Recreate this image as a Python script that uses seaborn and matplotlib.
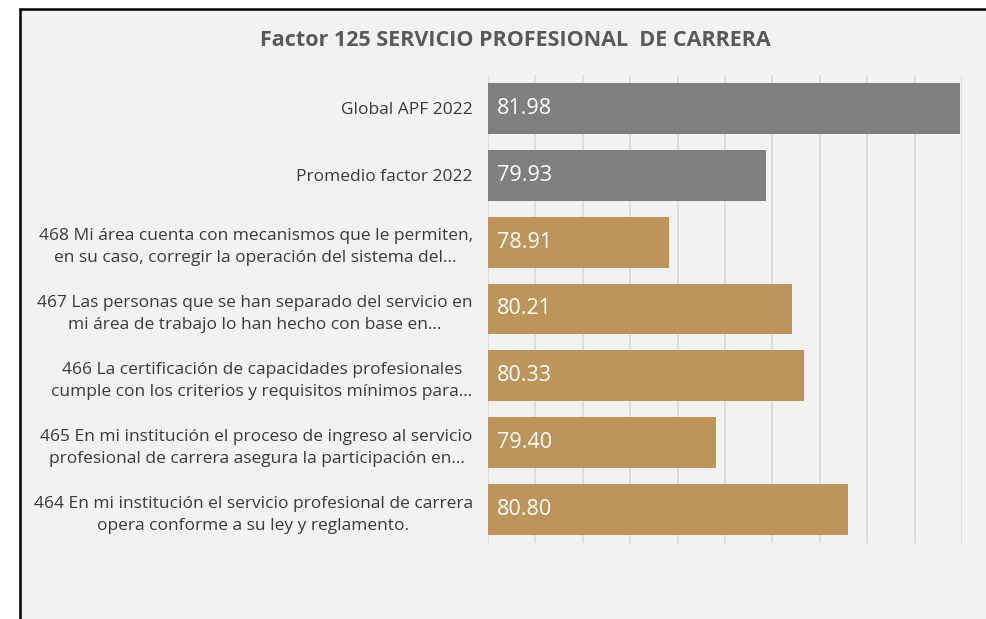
import matplotlib
matplotlib.use("Agg")
import matplotlib.pyplot as plt
import seaborn as sns
import pandas as pd
from matplotlib.patches import Rectangle

categories = [
    "Global APF 2022",
    "Promedio factor 2022",
    "468 Mi área cuenta con mecanismos que le permiten,\nen su caso, corregir la operación del sistema del...",
    "467 Las personas que se han separado del servicio en\nmi área de trabajo lo han hecho con base en...",
    "466 La certificación de capacidades profesionales\ncumple con los criterios y requisitos mínimos para...",
    "465 En mi institución el proceso de ingreso al servicio\nprofesional de carrera asegura la participación en...",
    "464 En mi institución el servicio profesional de carrera\nopera conforme a su ley y reglamento.",
]
values = [81.98, 79.93, 78.91, 80.21, 80.33, 79.40, 80.80]
groups = ["ref", "ref", "item", "item", "item", "item", "item"]
title = "Factor 125 SERVICIO PROFESIONAL  DE CARRERA"

palette = {"ref": "#7f7f7f", "item": "#bd9459"}

sns.set_theme(style="white")
plt.rcParams["font.family"] = ["Open Sans", "DejaVu Sans"]

df = pd.DataFrame({"cat": categories, "val": values, "grp": groups})

W, H = 986, 619
fig = plt.figure(figsize=(W / 100, H / 100), dpi=100)
fig.patch.set_facecolor("white")

# gray panel with black frame
panel = Rectangle((20 / W, -0.01), 1.0, 1.01 - 9 / H, transform=fig.transFigure,
                  facecolor="#f2f2f2", edgecolor="black", linewidth=1.8,
                  zorder=-10, clip_on=False)
fig.add_artist(panel)

ax = fig.add_axes([488 / W, 1 - 543 / H, (962 - 488) / W, (543 - 75) / H])
ax.set_zorder(5)
ax.set_facecolor("none")

sns.barplot(data=df, y="cat", x="val", hue="grp", palette=palette,
            dodge=False, legend=False, width=0.76, saturation=1,
            linewidth=0, ax=ax, zorder=3)

ax.set_xlim(77, 82)
ax.set_xticks([77 + 0.5 * i for i in range(11)])
ax.xaxis.grid(True, color="#d9d9d9", linewidth=1.2, zorder=0)
ax.set_axisbelow(True)
ax.tick_params(axis="x", length=0, labelbottom=False)
ax.tick_params(axis="y", length=0, pad=11)
for s in ax.spines.values():
    s.set_visible(False)
ax.set_xlabel("")
ax.set_ylabel("")

for lbl in ax.get_yticklabels():
    lbl.set_fontsize(12.5)
    lbl.set_color("#3a3a3a")
    lbl.set_multialignment("center")
    lbl.set_linespacing(1.5)

for i, v in enumerate(values):
    ax.text(77.09, i, f"{v:.2f}", color="white", fontsize=15.5,
            va="center", ha="left", zorder=4)

fig.text(515 / W, 1 - 40 / H, title, ha="center", va="center",
         fontsize=15.5, fontweight="bold", color="#595959")

fig.savefig("out.png", dpi=100, facecolor="white")
